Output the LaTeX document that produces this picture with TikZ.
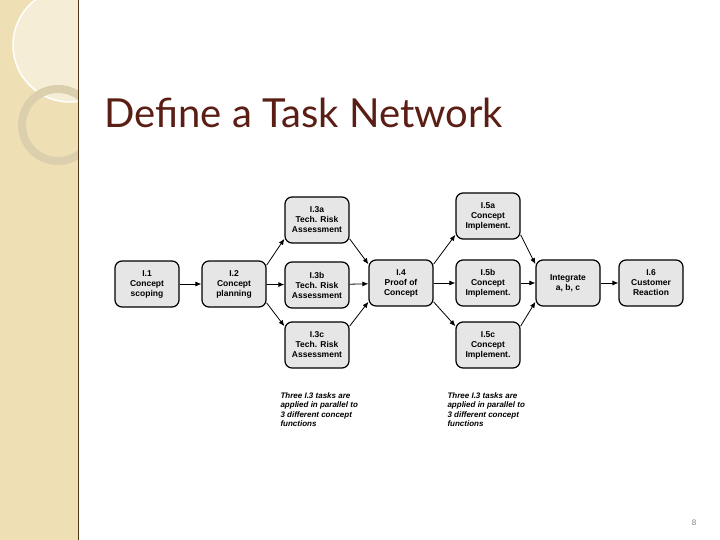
\documentclass[tikz,border=0pt]{standalone}
\usepackage{fontspec}
\setmainfont{Liberation Sans}
\newfontfamily\titlefont{Lato}
\usetikzlibrary{arrows.meta}
\definecolor{side}{HTML}{EFDFB5}
\definecolor{titlec}{HTML}{5A1E14}
\definecolor{boxfill}{HTML}{E6E6E6}
\definecolor{ring}{HTML}{DCCFAE}
\definecolor{pale}{HTML}{F6EDD6}
\begin{document}
\begin{tikzpicture}[x=1pt,y=-1pt,
  task/.style={draw=black,line width=1.2pt,rounded corners=7pt,fill=boxfill,minimum width=64pt,minimum height=46pt,align=center,font=\fontsize{8.5}{10}\selectfont\bfseries,inner sep=1pt},
  link/.style={-{Latex[length=6pt,width=5pt]},line width=0.8pt},
  note/.style={align=left,anchor=north west,font=\fontsize{8}{9.5}\selectfont\bfseries\itshape}]
\useasboundingbox (0,0) rectangle (720,540);
\fill[side] (0,0) rectangle (78,540);
\fill[pale] (70,45) circle [radius=57pt];
\draw[white,line width=1.5pt] (70,45) circle [radius=57pt];
\draw[ring,line width=8pt] (58,125) circle [radius=36pt];
\fill[white] (78,0) rectangle (720,540);
\draw[black!60!brown,line width=1pt] (78,0) -- (78,540);
\node[anchor=base west,text=titlec,font=\titlefont\fontsize{40}{44}\selectfont] (title) at (101,128) {Define a Task Network};
\node[task] (i1) at (147,284) {I.1\\Concept\\scoping};
\node[task] (i2) at (234,284) {I.2\\Concept\\planning};
\node[task] (i3a) at (317,220) {I.3a\\Tech. Risk\\Assessment};
\node[task] (i3b) at (317,285) {I.3b\\Tech. Risk\\Assessment};
\node[task] (i3c) at (317,345) {I.3c\\Tech. Risk\\Assessment};
\node[task] (i4) at (401,283) {I.4\\Proof of\\Concept};
\node[task] (i5a) at (488,216) {I.5a\\Concept\\Implement.};
\node[task] (i5b) at (488,283) {I.5b\\Concept\\Implement.};
\node[task] (i5c) at (488,345) {I.5c\\Concept\\Implement.};
\node[task] (int) at (568,283) {Integrate\\a, b, c};
\node[task] (i6) at (651,283) {I.6\\Customer\\Reaction};
\draw[link] (i1) -- (i2);
\draw[link] (i2.30) -- (i3a.210);
\draw[link] (i2) -- (i3b);
\draw[link] (i2.-30) -- (i3c.150);
\draw[link] (i3a.-30) -- (i4.150);
\draw[link] (i3b) -- (i4);
\draw[link] (i3c.30) -- (i4.210);
\draw[link] (i4.30) -- (i5a.210);
\draw[link] (i4) -- (i5b);
\draw[link] (i4.-30) -- (i5c.150);
\draw[link] (i5a.-30) -- (int.150);
\draw[link] (i5b) -- (int);
\draw[link] (i5c.30) -- (int.210);
\draw[link] (int) -- (i6);
\node[note] (n1) at (277,389) {Three I.3 tasks are\\applied in parallel to\\3 different concept\\functions};
\node[note] (n2) at (444,389) {Three I.3 tasks are\\applied in parallel to\\3 different concept\\functions};
\node[text=black!50,font=\fontsize{8}{9}\selectfont] (pg) at (694,523) {8};
\end{tikzpicture}
\end{document}
